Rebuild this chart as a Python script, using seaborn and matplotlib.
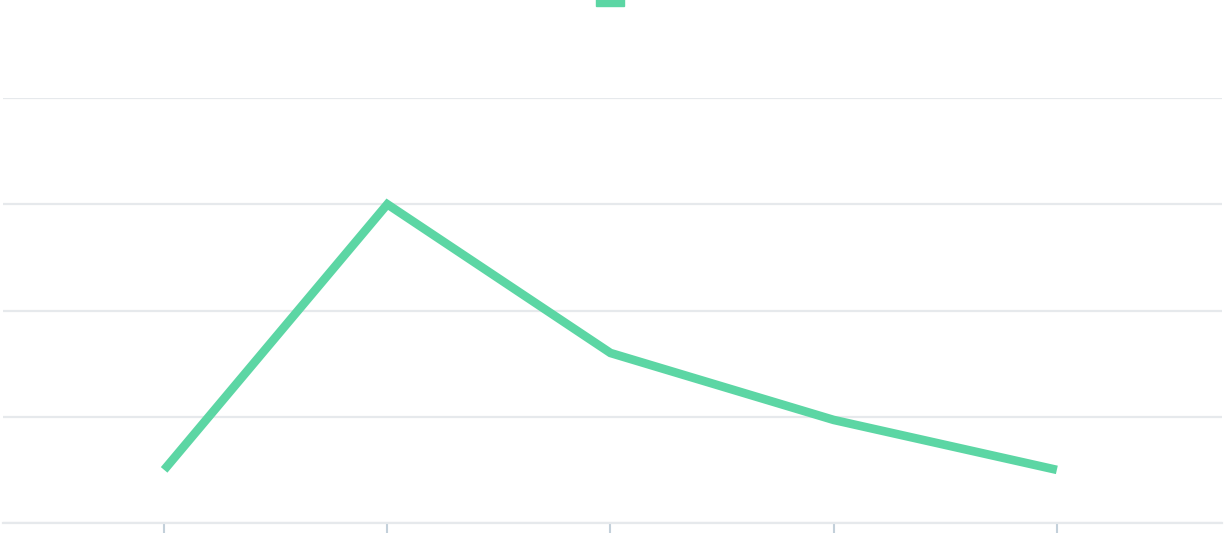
import matplotlib
matplotlib.use("Agg")
import matplotlib.pyplot as plt
from matplotlib.patches import Patch
import seaborn as sns
import pandas as pd

categories = ["A", "B", "C", "D", "E"]
values = [50, 300, 160, 97, 50]
yticks = [0, 100, 200, 300, 400]

green = "#5cd6a4"
grid_col = "#e6e9ec"
tick_col = "#c3d0da"

df = pd.DataFrame({"cat": range(len(categories)), "val": values})

sns.set_style("white")
fig = plt.figure(figsize=(12.24, 5.34), dpi=100)
ax = fig.add_axes([3 / 1224, 11 / 534, 1219 / 1224, 425 / 534])

sns.lineplot(data=df, x="cat", y="val", color=green, linewidth=6.2, ax=ax,
             solid_joinstyle="miter", solid_capstyle="butt")

ax.set_xlim(-0.722, 4.74)
ax.set_ylim(0, 400)
ax.set_yticks(yticks)
ax.set_xticks(range(len(categories)))
ax.set_xticklabels([])
ax.set_yticklabels([])
ax.set_xlabel("")
ax.set_ylabel("")
ax.grid(axis="y", color=grid_col, linewidth=1.6)
ax.set_axisbelow(True)
for s in ["top", "right", "left"]:
    ax.spines[s].set_visible(False)
ax.spines["bottom"].set_color(grid_col)
ax.spines["bottom"].set_linewidth(1.6)
ax.tick_params(axis="x", bottom=True, length=7, width=1.5, color=tick_col,
               direction="out")
ax.tick_params(axis="y", length=0)

# legend swatch, mostly above the visible area
fig.legend(handles=[Patch(color=green, label="")], loc="center",
           bbox_to_anchor=(610 / 1224, 1.0 + 2 / 534), frameon=False,
           handlelength=2.0, handleheight=1.4, handletextpad=0, borderpad=0)

fig.savefig("out.png", dpi=100, facecolor="white")
